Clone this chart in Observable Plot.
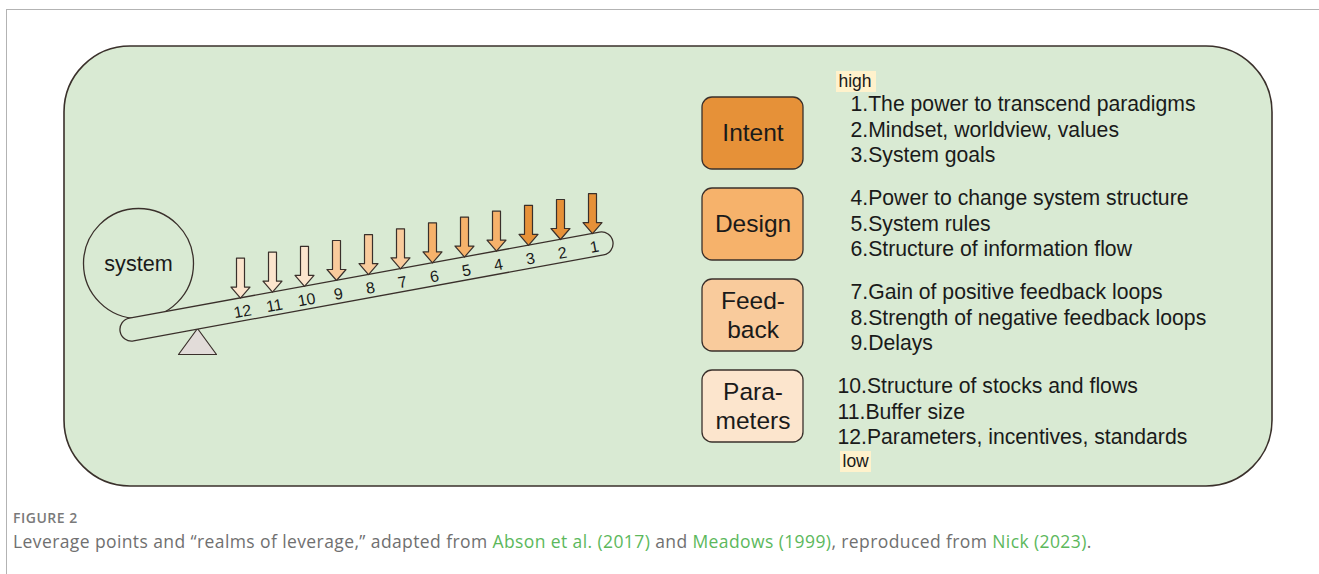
<!DOCTYPE html>
<html><head><meta charset="utf-8">
<script src="https://cdn.jsdelivr.net/npm/d3@7"></script>
<script src="https://cdn.jsdelivr.net/npm/@observablehq/plot@0.6"></script>
<style>
body{margin:0;background:#fff;width:1319px;height:574px;overflow:hidden;position:relative}
#frame{position:absolute;left:6px;top:9px;right:-2px;bottom:-2px;border-top:1.5px solid #b3b3b3;border-left:1.5px solid #b3b3b3}
#chart{position:absolute;left:0;top:0}
#fig{position:absolute;left:13px;top:508px;font:600 14px "Open Sans",sans-serif;color:#7a7a7a;letter-spacing:0.5px}
#cap{position:absolute;left:13px;top:529px;font:17.5px "Open Sans",sans-serif;color:#707070;letter-spacing:0.4px;white-space:nowrap}
#cap span.l{color:#5cb85c}
</style></head><body>
<div id="frame"></div>
<div id="chart"></div>
<div id="fig">FIGURE 2</div>
<div id="cap"></div>
<script>
// ---- data ----
const realms = ["Intent", "Design", "Feedback", "Parameters"];
const realmLabelLines = [["Intent"], ["Design"], ["Feed-", "back"], ["Para-", "meters"]];
const realmColors = ["#e69138", "#f6b26b", "#f9cb9c", "#fce5cd"];
const leverRanks = [1, 2, 3, 4, 5, 6, 7, 8, 9, 10, 11, 12];
const leverNames = [
  "The power to transcend paradigms",
  "Mindset, worldview, values",
  "System goals",
  "Power to change system structure",
  "System rules",
  "Structure of information flow",
  "Gain of positive feedback loops",
  "Strength of negative feedback loops",
  "Delays",
  "Structure of stocks and flows",
  "Buffer size",
  "Parameters, incentives, standards"
];
const leverRealm = [0, 0, 0, 1, 1, 1, 2, 2, 2, 3, 3, 3];
const scaleEnds = ["high", "low"];
const systemLabel = "system";
const captionParts = [
  ["Leverage points and \u201crealms of leverage,\u201d adapted from ", false],
  ["Abson et al. (2017)", true],
  [" and ", false],
  ["Meadows (1999)", true],
  [", reproduced from ", false],
  ["Nick (2023)", true],
  [".", false]
];

// ---- layout ----
const W = 1319, H = 495;
const FONT = "Liberation Sans, Arial, Helvetica, sans-serif";
const INK = "#3a302b";
const BG = "#d9ead3";
const beam = {x0: 131, y0: 329, x1: 601, y1: 243, half: 11.5};
const slope = (beam.y1 - beam.y0) / (beam.x1 - beam.x0);
const angle = Math.atan2(beam.y1 - beam.y0, beam.x1 - beam.x0) * 180 / Math.PI;
const beamY = x => beam.y0 + (x - beam.x0) * slope;
const arrowX = d3.scaleLinear().domain([1, 12]).range([592, 240]);
const arrowLen = 40, shaftHW = 4, headHW = 9.5, headLen = 11;

const arrowPts = [];
const numberLabels = [];
leverRanks.forEach((r, i) => {
  const x = arrowX(r);
  const tip = beamY(x) - beam.half;
  const top = tip - arrowLen;
  const hb = tip - headLen;
  const pts = [[x - shaftHW, top], [x + shaftHW, top], [x + shaftHW, hb], [x + headHW, hb], [x, tip], [x - headHW, hb], [x - shaftHW, hb]];
  pts.forEach(([px, py]) => arrowPts.push({id: r, x: px, y: py, fill: realmColors[leverRealm[i]]}));
  numberLabels.push({x: x + 2, y: beamY(x + 2) + 2.5, text: String(r)});
});

const boxes = realms.map((name, g) => ({g, x1: 702, x2: 803, y1: 97 + 91 * g, y2: 169 + 91 * g, fill: realmColors[g]}));
const boxLabels = [];
realmLabelLines.forEach((lines, g) => {
  const cy = 133 + 91 * g;
  lines.forEach((t, k) => boxLabels.push({x: 752.5, y: cy + (k - (lines.length - 1) / 2) * 28.5, text: t}));
});
const itemLabels = leverRanks.map((r, i) => {
  const g = leverRealm[i], j = i % 3;
  return {x: r >= 10 ? 837 : 850, y: 104 + 94 * g + 25.3 * j, text: `${r}.${leverNames[i]}`};
});
const endLabels = [{x: 838, y: 81, text: scaleEnds[0]}, {x: 842, y: 461, text: scaleEnds[1]}];
const endRects = [{x1: 836, x2: 876, y1: 71, y2: 92}, {x1: 840, x2: 871, y1: 451, y2: 472}];
const tri = [[197, 328], [178, 354], [216, 354]].map(([x, y]) => ({x, y}));
const beamLine = [{x: beam.x0, y: beam.y0}, {x: beam.x1, y: beam.y1}];

const plot = Plot.plot({
  width: W, height: H, margin: 0,
  x: {domain: [0, W], range: [0, W], axis: null},
  y: {domain: [0, H], range: [0, H], axis: null},
  color: {type: "identity"},
  style: {background: "none", overflow: "visible"},
  marks: [
    Plot.rect([{x1: 64, x2: 1272, y1: 46, y2: 486}], {x1: "x1", x2: "x2", y1: "y1", y2: "y2", rx: 66, fill: BG, stroke: INK, strokeWidth: 1.6}),
    Plot.dot([{x: 138, y: 263}], {x: "x", y: "y", r: 55, stroke: INK, strokeWidth: 1.3, fill: "none"}),
    Plot.text([{x: 138, y: 264, text: systemLabel}], {x: "x", y: "y", text: "text", fontSize: 21.6, fontFamily: FONT, fill: "#1a1a1a"}),
    Plot.line(tri, {x: "x", y: "y", curve: "linear-closed", fill: "#e2dcd9", stroke: INK, strokeWidth: 1.2}),
    Plot.line(beamLine, {x: "x", y: "y", stroke: INK, strokeWidth: beam.half * 2 + 1.4, strokeLinecap: "round"}),
    Plot.line(beamLine, {x: "x", y: "y", stroke: BG, strokeWidth: beam.half * 2 - 1.2, strokeLinecap: "round"}),
    Plot.line(arrowPts, {x: "x", y: "y", z: "id", fill: "fill", curve: "linear-closed", stroke: INK, strokeWidth: 1.2}),
    Plot.text(numberLabels, {x: "x", y: "y", text: "text", rotate: angle, fontSize: 16, fontFamily: FONT, fill: "#1a1a1a"}),
    Plot.rect(boxes, {x1: "x1", x2: "x2", y1: "y1", y2: "y2", fill: "fill", rx: 10, stroke: INK, strokeWidth: 1.3}),
    Plot.text(boxLabels, {x: "x", y: "y", text: "text", fontSize: 24.5, fontFamily: FONT, fill: "#1a1a1a"}),
    Plot.text(itemLabels, {x: "x", y: "y", text: "text", textAnchor: "start", fontSize: 21.2, fontFamily: FONT, fill: "#1a1a1a"}),
    Plot.rect(endRects, {x1: "x1", x2: "x2", y1: "y1", y2: "y2", fill: "#fff2cc"}),
    Plot.text(endLabels, {x: "x", y: "y", text: "text", textAnchor: "start", fontSize: 17.5, fontFamily: FONT, fill: "#1a1a1a"})
  ]
});
document.getElementById("chart").appendChild(plot);

const cap = document.getElementById("cap");
captionParts.forEach(([t, link]) => {
  const s = document.createElement("span");
  if (link) s.className = "l";
  s.textContent = t;
  cap.appendChild(s);
});
</script>
</body></html>
